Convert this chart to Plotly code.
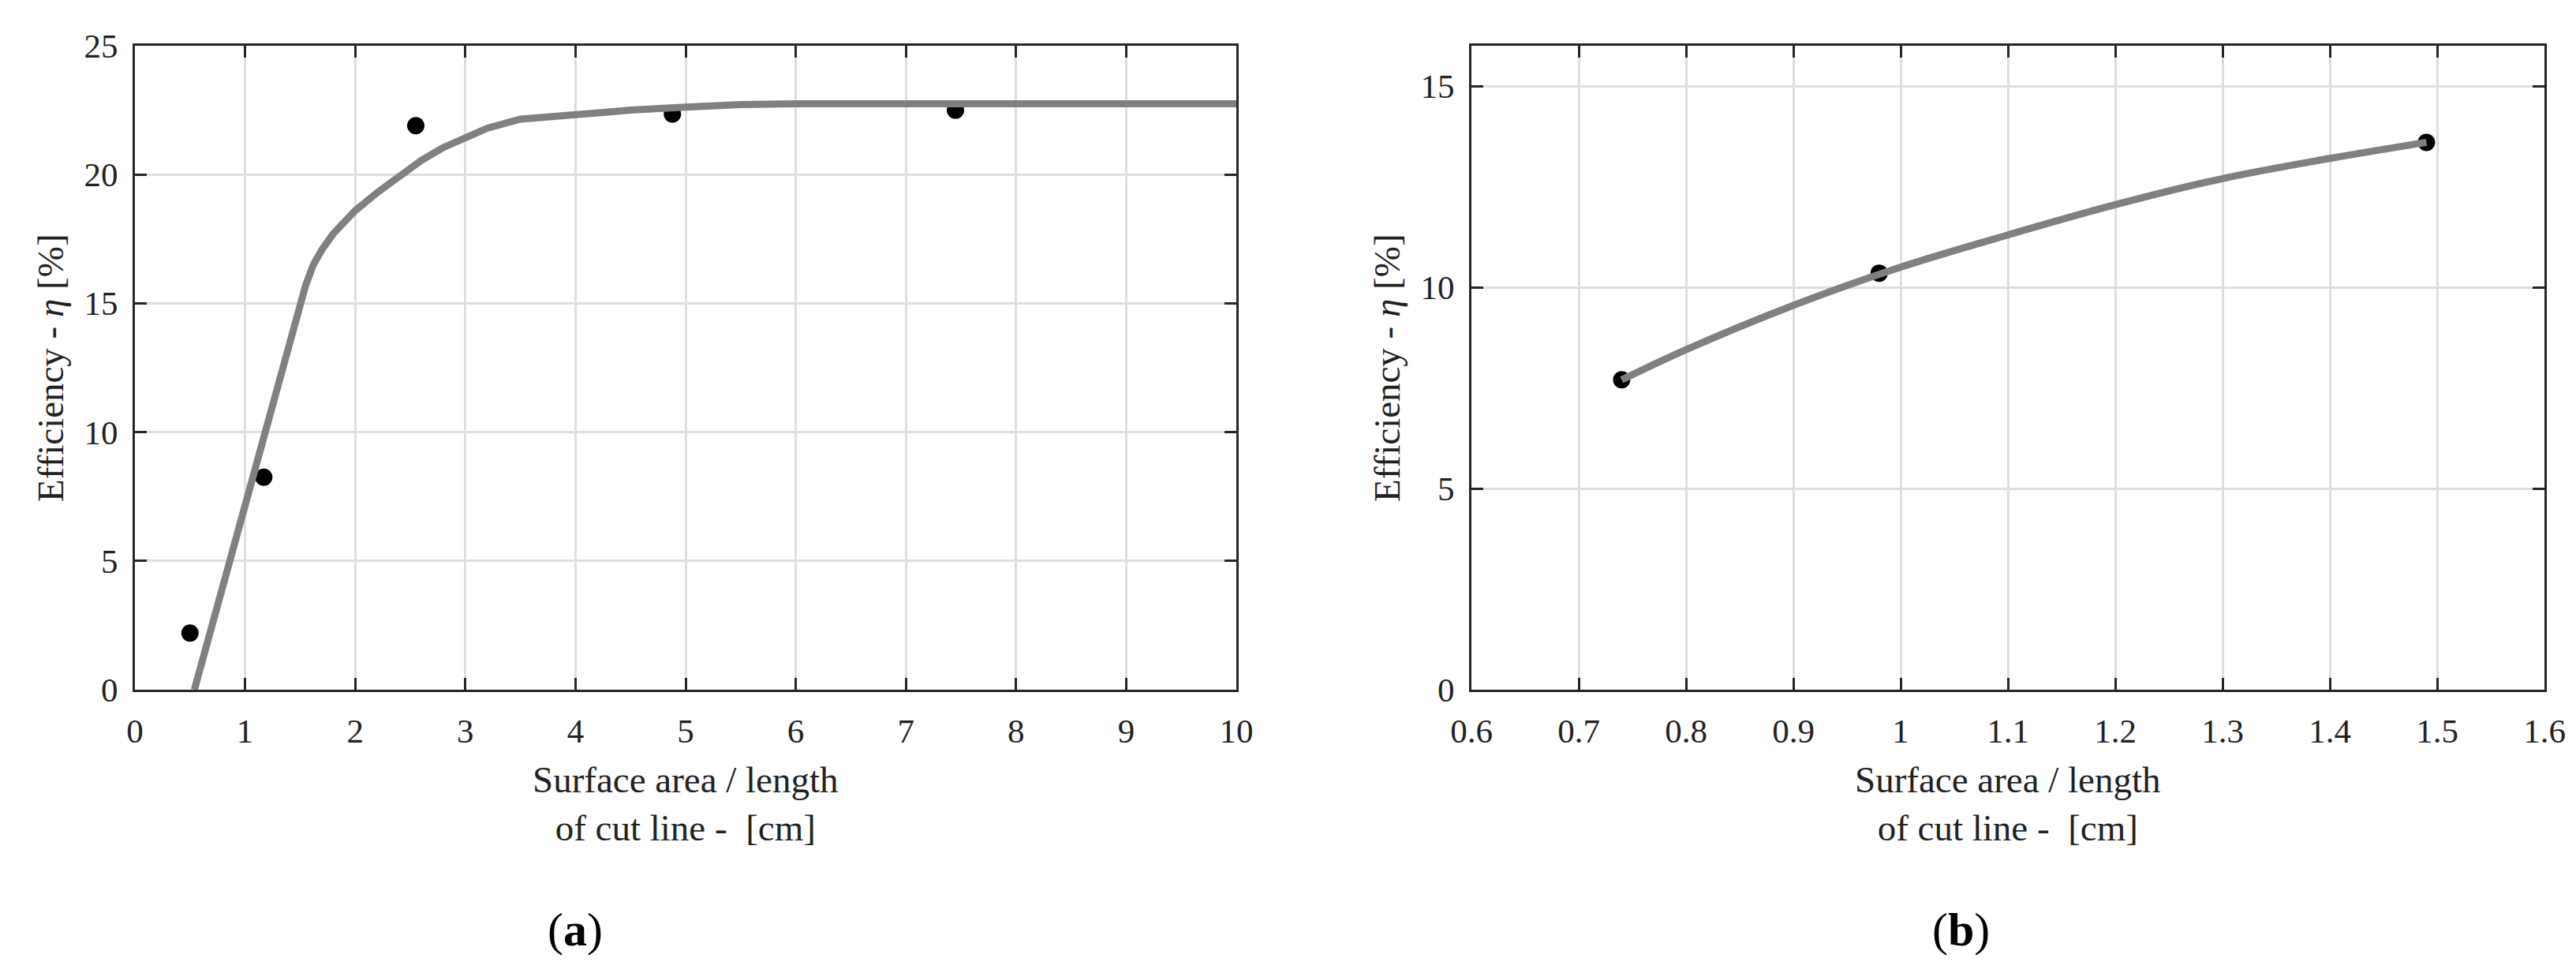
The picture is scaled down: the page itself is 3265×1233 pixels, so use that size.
import plotly.graph_objects as go

# ---- data ----
a_pts_x = [0.5, 1.17, 2.55, 4.88, 7.45]
a_pts_y = [2.2, 8.25, 21.9, 22.35, 22.5]
a_fit_x = [0.54, 1.55, 1.62, 1.7, 1.8, 1.9, 2.0, 2.2, 2.4, 2.6, 2.8, 3.0, 3.2, 3.5, 4.0, 4.5, 5.0, 5.5, 6.0, 10.0]
a_fit_y = [0.0, 15.7, 16.5, 17.1, 17.7, 18.2, 18.6, 19.3, 19.95, 20.55, 21.05, 21.45, 21.8, 22.15, 22.35, 22.5, 22.62, 22.72, 22.75, 22.75]

b_pts_x = [0.74, 0.98, 1.49]
b_pts_y = [7.7, 10.35, 13.6]
b_fit_x = [0.74, 0.8, 0.9, 1.0, 1.1, 1.2, 1.3, 1.4, 1.49]
b_fit_y = [7.7, 8.45, 9.55, 10.5, 11.3, 12.05, 12.7, 13.2, 13.6]

a_xticks = [0, 1, 2, 3, 4, 5, 6, 7, 8, 9, 10]
a_yticks = [0, 5, 10, 15, 20, 25]
b_xticks = [0.6, 0.7, 0.8, 0.9, 1.0, 1.1, 1.2, 1.3, 1.4, 1.5, 1.6]
b_xticktext = ["0.6", "0.7", "0.8", "0.9", "1", "1.1", "1.2", "1.3", "1.4", "1.5", "1.6"]
b_yticks = [0, 5, 10, 15]

x_title = "Surface area / length<br>of cut line -  [cm]"
y_title = "Efficiency - <i>η</i> [%]"

FONT = "Liberation Serif"
W, H = 3265, 1233

fig = go.Figure()
fig.add_trace(go.Scatter(x=a_pts_x, y=a_pts_y, mode="markers", xaxis="x", yaxis="y",
                         marker=dict(color="black", size=22), showlegend=False))
fig.add_trace(go.Scatter(x=a_fit_x, y=a_fit_y, mode="lines", xaxis="x", yaxis="y",
                         line=dict(color="#808080", width=9), showlegend=False))
fig.add_trace(go.Scatter(x=b_pts_x, y=b_pts_y, mode="markers", xaxis="x2", yaxis="y2",
                         marker=dict(color="black", size=22), showlegend=False))
fig.add_trace(go.Scatter(x=b_fit_x, y=b_fit_y, mode="lines", xaxis="x2", yaxis="y2",
                         line=dict(color="#808080", width=9, shape="spline"), showlegend=False))

ydom = [1 - 866 / H, 1 - 50 / H]
ax_common = dict(showline=True, linecolor="#262626", linewidth=3, mirror="ticks",
                 ticks="inside", ticklen=15, tickwidth=3, tickcolor="#262626",
                 showgrid=True, gridcolor="#dedede", gridwidth=3, zeroline=False,
                 automargin=False,
                 tickfont=dict(family=FONT, size=43, color="#222222"))

fig.update_layout(
    width=W, height=H, margin=dict(l=0, r=0, t=0, b=0, autoexpand=False),
    paper_bgcolor="white", plot_bgcolor="white",
    xaxis=dict(domain=[163 / W, 1559 / W], range=[0, 10], tickvals=a_xticks,
               ticklabelstandoff=12, anchor="y", **ax_common),
    yaxis=dict(domain=ydom, range=[0, 25], tickvals=a_yticks,
               ticklabelstandoff=10, anchor="x", **ax_common),
    xaxis2=dict(domain=[1857 / W, 3217 / W], range=[0.6, 1.6], tickvals=b_xticks,
                ticktext=b_xticktext, ticklabelstandoff=12, anchor="y2", **ax_common),
    yaxis2=dict(domain=ydom, range=[0, 16], tickvals=b_yticks,
                ticklabelstandoff=10, anchor="x2", **ax_common),
)

tfont = dict(family=FONT, size=47, color="#222222")
annots = []
for cx in [(163 + 1559) / 2, (1857 + 3217) / 2]:
    annots.append(dict(x=cx / W, y=1 - 1010 / H, xref="paper", yref="paper",
                       text=x_title, showarrow=False, font=tfont,
                       xanchor="center", yanchor="middle"))
annots.append(dict(x=(163 + 1559) / 2 / W - 140 / W, y=1 - 1170 / H, xref="paper", yref="paper",
                   text="(<b>a</b>)", showarrow=False, font=dict(family=FONT, size=60, color="black"),
                   xanchor="center", yanchor="middle"))
annots.append(dict(x=(1857 + 3217) / 2 / W - 60 / W, y=1 - 1170 / H, xref="paper", yref="paper",
                   text="(<b>b</b>)", showarrow=False, font=dict(family=FONT, size=60, color="black"),
                   xanchor="center", yanchor="middle"))
for cx in [56, 1750]:
    annots.append(dict(x=cx / W, y=1 - 458 / H, xref="paper", yref="paper",
                       text=y_title, showarrow=False, font=tfont, textangle=-90,
                       xanchor="center", yanchor="middle"))
fig.update_layout(annotations=annots)

fig.write_html("out.html")
